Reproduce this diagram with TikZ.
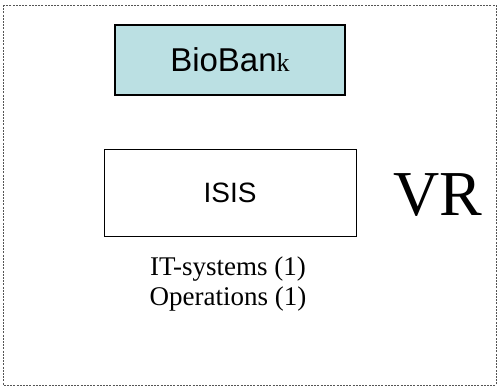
\documentclass[tikz,border=0pt]{standalone}
\usepackage{fontspec}
\setmainfont{Liberation Serif}
\newfontfamily\arialfont{Liberation Sans}
\definecolor{bankfill}{HTML}{BBE0E3}
\definecolor{framegray}{HTML}{555555}
\begin{document}
\begin{tikzpicture}[x=1pt,y=-1pt,
    box/.style={draw,rectangle,inner sep=0pt}]
  \useasboundingbox (0,0) rectangle (499,388);
  \draw[framegray,line width=0.7pt,dash pattern=on 2pt off 1.2pt]
    (3,5) rectangle (496,385);
  \node[box,fill=bankfill,line width=1.6pt,minimum width=230pt,minimum height=70pt,
    font=\arialfont\fontsize{33}{36}\selectfont]
    (biobank) at (230,60) {BioBan{\rmfamily\fontsize{26}{28}\selectfont k}};
  \node[box,line width=0.6pt,minimum width=252pt,minimum height=87pt,
    font=\arialfont\fontsize{28}{32}\selectfont]
    (isis) at (230,192.5) {ISIS};
  \node[font=\fontsize{64}{70}\selectfont,inner sep=0pt]
    (vr) at (438,195) {VR};
  \node[font=\fontsize{27}{30}\selectfont,align=center,inner sep=0pt]
    (systems) at (228,284) {IT-systems (1)\\Operations (1)};
\end{tikzpicture}
\end{document}
